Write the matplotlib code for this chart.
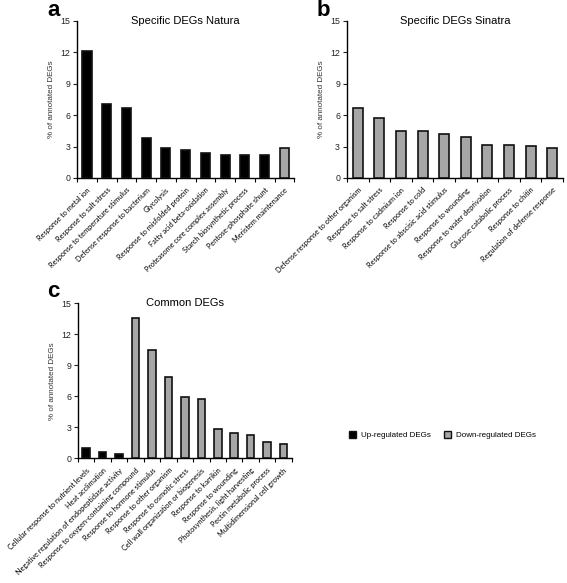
import matplotlib
matplotlib.use("Agg")
import matplotlib.pyplot as plt
from matplotlib.patches import Patch

plt.rcParams['font.family'] = ['Liberation Sans', 'DejaVu Sans']

UP = '#000000'
DOWN = '#a6a6a6'

# Panel a
cats_a = ["Response to metal ion", "Response to salt stress", "Response to temperature stimulus",
          "Defense response to bacterium", "Glycolysis", "Response to misfolded protein",
          "Fatty acid beta-oxidation", "Proteasome core complex assembly",
          "Starch biosynthetic process", "Pentose-phosphate shunt", "Meristem maintenance"]
vals_a = [12.1, 7.05, 6.65, 3.8, 2.9, 2.7, 2.35, 2.2, 2.2, 2.2, 2.9]
reg_a = ['up'] * 10 + ['down']

# Panel b
cats_b = ["Defense response to other organism", "Response to salt stress", "Response to cadmium ion",
          "Response to cold", "Response to abscisic acid stimulus", "Response to wounding",
          "Response to water deprivation", "Glucose catabolic process", "Response to chitin",
          "Regulation of defense response"]
vals_b = [6.65, 5.7, 4.45, 4.45, 4.2, 3.95, 3.18, 3.18, 3.08, 2.9]
reg_b = ['down'] * 10

# Panel c
cats_c = ["Cellular response to nutrient levels", "Heat acclimation",
          "Negative regulation of endopeptidase activity",
          "Response to oxygen-containing compound", "Response to hormone stimulus",
          "Response to other organism", "Response to osmotic stress",
          "Cell wall organization or biogenesis", "Response to karrikin",
          "Response to wounding", "Photosynthesis, light harvesting",
          "Pectin metabolic process", "Multidimensional cell growth"]
vals_c = [1.0, 0.6, 0.45, 13.55, 10.5, 7.9, 5.95, 5.7, 2.85, 2.45, 2.25, 1.55, 1.4]
reg_c = ['up'] * 3 + ['down'] * 10

fig = plt.figure(figsize=(5.67, 5.83), dpi=100)

def panel(rect, cats, vals, regs, title, letter, letter_xy):
    ax = fig.add_axes(rect)
    n = len(cats)
    x = list(range(n))
    colors = [UP if r == 'up' else DOWN for r in regs]
    ax.bar(x, vals, width=0.46, color=colors, edgecolor='#111111', linewidth=1.2, zorder=3)
    ax.set_xlim(-0.5, n - 0.5)
    ax.set_ylim(0, 15)
    ax.set_yticks([0, 3, 6, 9, 12, 15])
    ax.tick_params(axis='y', labelsize=6.3, length=3, width=0.8, pad=2, colors='#222222')
    ax.set_xticks(x)
    ax.set_xticklabels(cats, rotation=45, ha='right', rotation_mode='anchor',
                       fontsize=5.3, family=['Lato', 'DejaVu Sans'])
    ax.tick_params(axis='x', which='major', length=0, pad=6)
    ax.set_xticks([i - 0.5 for i in range(n + 1)], minor=True)
    ax.tick_params(axis='x', which='minor', length=3, width=0.8)
    for s in ['top', 'right']:
        ax.spines[s].set_visible(False)
    for s in ['left', 'bottom']:
        ax.spines[s].set_linewidth(1.0)
    ax.set_ylabel('% of annotated DEGs', fontsize=5.8, labelpad=4, color='#333333')
    ax.text(0.5, 1.0, title, transform=ax.transAxes, fontsize=8, ha='center', va='center')
    fig.text(letter_xy[0], letter_xy[1], letter, fontsize=16, fontweight='bold',
             ha='left', va='center')
    return ax

panel([0.136, 0.6947, 0.383, 0.2693], cats_a, vals_a, reg_a,
      'Specific DEGs Natura', 'a', (0.083, 0.982))
panel([0.612, 0.6947, 0.381, 0.2693], cats_b, vals_b, reg_b,
      'Specific DEGs Sinatra', 'b', (0.558, 0.982))
panel([0.1376, 0.2139, 0.377, 0.2659], cats_c, vals_c, reg_c,
      'Common DEGs', 'c', (0.083, 0.500))

handles = [Patch(facecolor=UP, edgecolor='#111111', label='Up-regulated DEGs'),
           Patch(facecolor=DOWN, edgecolor='#111111', label='Down-regulated DEGs')]
fig.legend(handles=handles, loc='center left', bbox_to_anchor=(0.603, 0.254), ncol=2,
           frameon=False, fontsize=5.8, handlelength=0.9, handleheight=0.9,
           columnspacing=1.6, handletextpad=0.6)

fig.savefig('out.png', dpi=100)
